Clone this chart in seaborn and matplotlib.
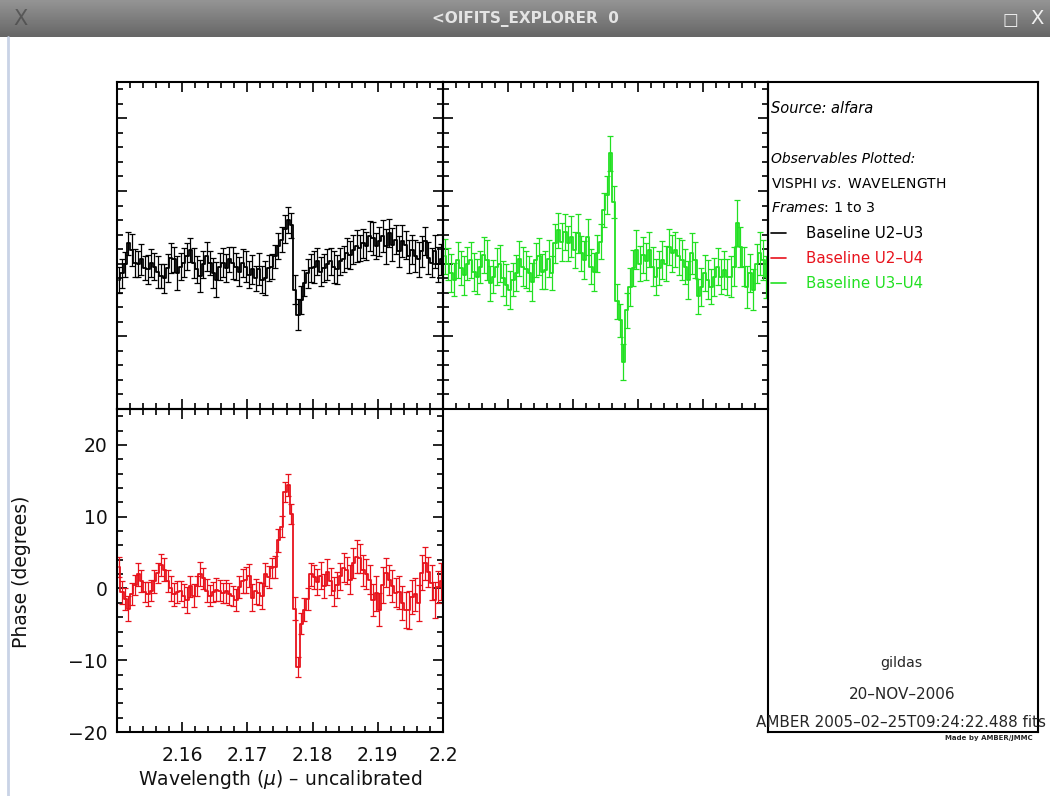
import numpy as np
import pandas as pd
import seaborn as sns
import matplotlib.pyplot as plt
from matplotlib.ticker import FixedLocator, MultipleLocator

sns.set_theme(style="white")
plt.rcParams['font.family'] = ['DejaVu Sans']
plt.rcParams['mathtext.fontset'] = 'dejavusans'

W, H = 1050, 796

# spectral channels (micron)
WAVELENGTH = [
    2.15025, 2.15075, 2.15125, 2.15175, 2.15225, 2.15275, 2.15325, 2.15375, 2.15425, 2.15475,
    2.15525, 2.15575, 2.15625, 2.15675, 2.15725, 2.15775, 2.15825, 2.15875, 2.15925, 2.15975,
    2.16025, 2.16075, 2.16125, 2.16175, 2.16225, 2.16275, 2.16325, 2.16375, 2.16425, 2.16475,
    2.16525, 2.16575, 2.16625, 2.16675, 2.16725, 2.16775, 2.16825, 2.16875, 2.16925, 2.16975,
    2.17025, 2.17075, 2.17125, 2.17175, 2.17225, 2.17275, 2.17325, 2.17375, 2.17425, 2.17475,
    2.17525, 2.17575, 2.17625, 2.17675, 2.17725, 2.17775, 2.17825, 2.17875, 2.17925, 2.17975,
    2.18025, 2.18075, 2.18125, 2.18175, 2.18225, 2.18275, 2.18325, 2.18375, 2.18425, 2.18475,
    2.18525, 2.18575, 2.18625, 2.18675, 2.18725, 2.18775, 2.18825, 2.18875, 2.18925, 2.18975,
    2.19025, 2.19075, 2.19125, 2.19175, 2.19225, 2.19275, 2.19325, 2.19375, 2.19425, 2.19475,
    2.19525, 2.19575, 2.19625, 2.19675, 2.19725, 2.19775, 2.19825, 2.19875, 2.19925, 2.19975,
]

# differential phase (degrees) per baseline
PHASE_U2U3 = [
    -2.2, -1.3, -0.1, 2.8, 1.9, 0.1, -0.1, 0.6, -0.6, -0.8,
    0.1, -0.4, -1.1, -1.7, -2.0, -0.6, 0.8, 0.6, -1.3, -0.4,
    0.1, 1.0, 1.9, 0.1, -0.8, -1.7, -0.1, 1.0, 0.1, -1.3,
    -2.2, -0.4, 0.1, -0.6, 0.6, 0.1, -0.4, -1.1, 0.1, -0.4,
    -1.5, -0.8, -2.0, -0.8, -2.2, -2.0, -0.6, -0.4, 1.0, 2.4,
    3.3, 4.8, 6.0, 5.3, -3.6, -7.0, -5.0, -2.7, -1.3, -0.6,
    -0.4, 0.3, -1.1, -0.6, -0.1, 0.3, -0.4, -0.8, 0.3, 0.6,
    1.5, 1.2, 1.9, 2.4, 2.2, 2.8, 2.4, 3.8, 3.5, 2.4,
    3.1, 3.8, 2.4, 4.2, 2.6, 3.3, 1.7, 3.1, 2.6, 1.0,
    1.9, 1.0, 0.6, 1.7, 3.1, 0.8, 0.1, 1.7, -0.1, 0.6,
]
ERR_U2U3 = [
    1.8, 2.0, 1.7, 1.6, 2.2, 1.9, 1.8, 2.1, 1.7, 2.0,
    1.9, 1.8, 2.2, 1.6, 2.0, 1.9, 2.1, 1.7, 2.3, 1.8,
    2.0, 1.9, 1.7, 2.1, 1.8, 2.2, 1.9, 2.0, 1.7, 2.1,
    2.4, 1.8, 2.0, 1.9, 1.7, 2.2, 1.8, 2.0, 1.9, 2.1,
    1.8, 2.0, 1.7, 2.2, 1.9, 2.3, 1.8, 1.7, 1.6, 1.8,
    1.7, 1.9, 1.8, 1.7, 2.0, 2.1, 1.9, 1.8, 2.0, 1.9,
    2.2, 1.8, 2.0, 1.9, 2.1, 1.8, 2.2, 2.0, 1.9, 1.8,
    2.1, 1.9, 2.0, 2.2, 1.8, 2.0, 1.9, 2.1, 2.3, 1.8,
    2.0, 2.2, 2.4, 1.9, 2.3, 2.0, 2.1, 2.2, 1.9, 2.3,
    2.0, 2.2, 2.4, 2.1, 1.9, 2.2, 2.0, 2.3, 2.4, 2.1,
]

PHASE_U3U4 = [
    1.0, 0.0, -1.3, -2.2, 0.5, -0.6, -1.6, 0.0, 0.5, -1.1,
    -1.8, -0.4, 1.2, 0.5, -2.7, -1.8, -0.4, 0.0, -2.0, -2.9,
    -3.6, -2.2, -1.3, 0.7, -0.4, -0.8, -1.3, -2.5, 0.5, 1.0,
    -1.1, -0.9, 0.7, -1.3, 2.8, 4.6, 3.0, 4.4, 2.8, 3.7,
    1.9, 4.2, 1.4, 0.5, 3.7, -0.4, -1.1, 1.4, 3.0, 7.4,
    9.4, 15.2, 8.5, -5.2, -7.8, -13.5, -6.4, -3.2, -0.6, 1.9,
    0.0, 1.2, 0.3, 1.9, -0.4, -1.8, -0.6, 0.5, 0.0, 2.3,
    1.4, 1.9, 1.0, 0.5, -0.4, -2.2, 1.4, 0.5, -4.5, -3.2,
    -1.3, -2.2, -3.2, -1.8, -0.4, -1.8, -0.9, -1.8, -1.8, -0.4,
    5.6, 2.3, -0.4, -3.2, -1.3, -3.6, 0.0, 1.4, 0.5, -1.8,
]
ERR_U3U4 = [
    2.4, 2.2, 2.6, 2.3, 2.5, 2.4, 2.7, 2.3, 2.5, 2.6,
    2.4, 2.2, 2.5, 2.7, 2.4, 2.3, 2.6, 2.5, 2.4, 2.8,
    2.6, 2.3, 2.5, 2.4, 2.7, 2.5, 2.4, 2.6, 2.3, 2.5,
    2.4, 2.6, 2.5, 2.3, 2.7, 2.4, 2.6, 2.5, 2.4, 2.8,
    2.5, 2.7, 2.4, 2.6, 2.5, 2.4, 2.6, 2.5, 2.4, 2.3,
    2.6, 2.4, 2.2, 2.4, 2.3, 2.5, 2.4, 2.6, 2.5, 2.7,
    2.4, 2.5, 2.6, 2.4, 2.7, 2.5, 2.3, 2.6, 2.4, 2.5,
    2.6, 2.4, 2.5, 2.7, 2.4, 2.6, 2.8, 2.5, 2.4, 2.6,
    2.5, 2.7, 2.4, 2.6, 2.5, 2.4, 2.6, 2.5, 2.8, 2.7,
    3.2, 2.8, 2.7, 2.9, 2.6, 2.8, 2.7, 3.0, 2.8, 2.9,
]

PHASE_U2U4 = [
    3.0, -0.5, -1.5, -2.8, -0.8, 0.5, 2.0, 1.0, -0.5, -0.8,
    -0.3, 1.0, 2.2, 3.3, 2.6, 1.0, 0.0, -0.8, -0.5, -0.3,
    -1.0, -1.6, 0.3, -1.0, 0.3, 2.0, 1.4, -0.3, -1.0, -0.5,
    -0.2, -0.3, -0.6, -0.4, -0.8, -1.0, -1.6, 0.2, 1.0, 1.2,
    1.8, -1.3, -0.4, -0.7, -1.0, 2.0, 1.6, 2.8, 3.0, 6.7,
    8.6, 13.4, 14.4, 10.4, -2.8, -10.9, -4.9, -3.0, -1.5, 2.0,
    1.6, 0.9, 1.8, 0.3, 2.3, 1.0, -0.4, 0.5, 1.7, 2.9,
    2.5, 1.2, 3.5, 4.4, 4.2, 2.5, 2.0, 1.2, -1.6, -0.7,
    -3.0, 0.5, 2.2, 1.2, 0.3, -0.6, -0.5, -2.0, -3.0, -3.0,
    -1.2, -0.8, -2.0, 2.2, 3.5, 2.3, 0.8, -1.6, 0.2, 1.0,
]
ERR_U2U4 = [
    1.4, 1.6, 1.5, 1.8, 1.5, 1.4, 1.6, 1.5, 1.4, 1.7,
    1.5, 1.6, 1.4, 1.5, 1.6, 1.5, 1.7, 1.6, 1.5, 1.4,
    1.6, 1.8, 1.5, 1.6, 1.4, 1.7, 1.5, 1.6, 1.5, 1.4,
    1.6, 1.5, 1.4, 1.6, 1.5, 1.4, 1.5, 1.6, 1.7, 1.8,
    1.6, 1.9, 1.7, 1.6, 1.8, 1.6, 1.5, 1.4, 1.5, 1.6,
    1.5, 1.4, 1.5, 1.4, 1.6, 1.4, 1.5, 1.6, 1.5, 1.6,
    1.7, 1.8, 1.9, 1.7, 1.8, 1.9, 2.0, 1.8, 1.9, 2.0,
    1.9, 2.0, 2.1, 2.3, 2.0, 2.2, 2.1, 2.0, 2.2, 2.4,
    2.3, 2.5, 2.0, 2.1, 2.2, 2.0, 2.3, 2.4, 2.5, 2.6,
    2.4, 2.3, 2.5, 2.4, 2.3, 2.1, 2.4, 2.5, 2.2, 2.6,
]

BASELINES = ['U2-U3', 'U2-U4', 'U3-U4']
COLORS = {'U2-U3': 'black', 'U2-U4': '#e8121c', 'U3-U4': '#22e022'}

frames = []
for name, ph, er in [('U2-U3', PHASE_U2U3, ERR_U2U3),
                     ('U3-U4', PHASE_U3U4, ERR_U3U4),
                     ('U2-U4', PHASE_U2U4, ERR_U2U4)]:
    frames.append(pd.DataFrame({'wavelength': WAVELENGTH, 'phase': ph,
                                'err': er, 'baseline': name}))
df = pd.concat(frames, ignore_index=True)


def box(x0, y0, x1, y1):
    # pixel box (top-left origin) -> figure fraction rect
    return [x0 / W, 1 - y1 / H, (x1 - x0) / W, (y1 - y0) / H]


def style_panel(ax, show_labels):
    ax.set_facecolor('none')
    ax.set_xlim(2.15, 2.20)
    ax.set_ylim(-20, 25)
    ax.xaxis.set_major_locator(FixedLocator([2.16, 2.17, 2.18, 2.19, 2.20]))
    ax.xaxis.set_minor_locator(MultipleLocator(0.002))
    ax.yaxis.set_major_locator(MultipleLocator(10))
    ax.yaxis.set_minor_locator(MultipleLocator(2))
    ax.tick_params(which='both', direction='in', top=True, right=True,
                   bottom=True, left=True, color='black', width=1.2)
    ax.tick_params(which='major', length=7.5)
    ax.tick_params(which='minor', length=4)
    ax.tick_params(axis='x', pad=10, labelsize=13.5, labelcolor='#111111')
    ax.tick_params(axis='y', pad=7, labelsize=13.5, labelcolor='#111111')
    for sp in ax.spines.values():
        sp.set_color('black')
        sp.set_linewidth(1.5)
        sp.set_visible(True)
    if show_labels:
        ax.set_xticklabels(['2.16', '2.17', '2.18', '2.19', '2.2'])
    else:
        ax.tick_params(labelbottom=False, labelleft=False)
    ax.set_xlabel('')
    ax.set_ylabel('')


def draw_baseline(ax, name):
    sub = df[df['baseline'] == name]
    c = COLORS[name]
    sns.lineplot(data=sub, x='wavelength', y='phase', ax=ax, color=c,
                 drawstyle='steps-mid', linewidth=1.3, estimator=None,
                 errorbar=None, legend=False)
    ax.errorbar(sub['wavelength'], sub['phase'], yerr=sub['err'], fmt='none',
                ecolor=c, elinewidth=0.9, capsize=2.2, capthick=0.9)


fig = plt.figure(figsize=(W / 100, H / 100), dpi=100)
fig.patch.set_facecolor('white')

# window title bar
bar = fig.add_axes(box(0, 0, W, 37))
grad = np.linspace(0.58, 0.40, 37).reshape(-1, 1)
bar.imshow(grad, cmap='gray', vmin=0, vmax=1, aspect='auto', extent=[0, W, 37, 0])
bar.set_xlim(0, W)
bar.set_ylim(37, 0)
bar.axis('off')
bar.text(525, 19, '<OIFITS_EXPLORER  0', color='#e4e4e4', ha='center',
         va='center', fontsize=11, fontweight='bold')
bar.text(20, 19, 'X', color='#3c3c3c', ha='center', va='center', fontsize=15,
         alpha=0.6)
bar.text(1010, 20, '□', color='#f0f0f0', ha='center', va='center', fontsize=12)
bar.text(1037, 19, 'X', color='#f0f0f0', ha='center', va='center', fontsize=14)

# left window border
fig.add_artist(plt.Line2D([8 / W, 8 / W], [0, 1 - 37 / H], color='#c9d3e6', lw=2))

ax_tl = fig.add_axes(box(117, 82, 443, 409))
ax_tr = fig.add_axes(box(443, 82, 768, 409))
ax_bl = fig.add_axes(box(117, 409, 443, 732))

draw_baseline(ax_tl, 'U2-U3')
draw_baseline(ax_tr, 'U3-U4')
draw_baseline(ax_bl, 'U2-U4')

style_panel(ax_tl, False)
style_panel(ax_tr, False)
style_panel(ax_bl, True)

ax_bl.set_xlabel(r'Wavelength ($\mu$) – uncalibrated', fontsize=13.5,
                 color='#111111', labelpad=2)
fig.text(22 / W, 1 - 572 / H, 'Phase (degrees)', rotation=90, ha='center',
         va='center', fontsize=13.5, color='#111111')

# info panel on the right
info = fig.add_axes(box(768, 82, 1038, 732))
info.set_facecolor('none')
info.set_xlim(768, 1038)
info.set_ylim(732, 82)
info.set_xticks([])
info.set_yticks([])
for sp in info.spines.values():
    sp.set_color('black')
    sp.set_linewidth(1.5)
    sp.set_visible(True)

txt = dict(va='center', ha='left', color='black')
info.text(771, 108, 'Source: alfara', style='italic', fontsize=10.5, **txt)
info.text(771, 159, 'Observables Plotted:', style='italic', fontsize=10, **txt)
info.text(771, 184, r'VISPHI $\mathit{vs.}$ WAVELENGTH', fontsize=10, **txt)
info.text(771, 208, r'$\mathit{Frames}$: 1 to 3', fontsize=10.3, **txt)
for k, name in enumerate(['U2-U3', 'U2-U4', 'U3-U4']):
    yy = 233 + 25 * k
    info.plot([771, 786], [yy, yy], color=COLORS[name], lw=1.2)
    info.text(806, yy, 'Baseline ' + name.replace('-', '–'),
              fontsize=10.8, va='center', ha='left', color=COLORS[name])

info.text(901, 663, 'gildas', fontsize=10.3, ha='center', va='center')
info.text(902, 694, '20–NOV–2006', fontsize=11, ha='center', va='center')
info.text(756, 722, 'AMBER 2005–02–25T09:24:22.488 fits', fontsize=10.9,
          ha='left', va='center')
info.text(1033, 738, 'Made by AMBER/JMMC', fontsize=5, fontweight='bold',
          ha='right', va='center')

fig.savefig('out.png', dpi=100, facecolor='white')
